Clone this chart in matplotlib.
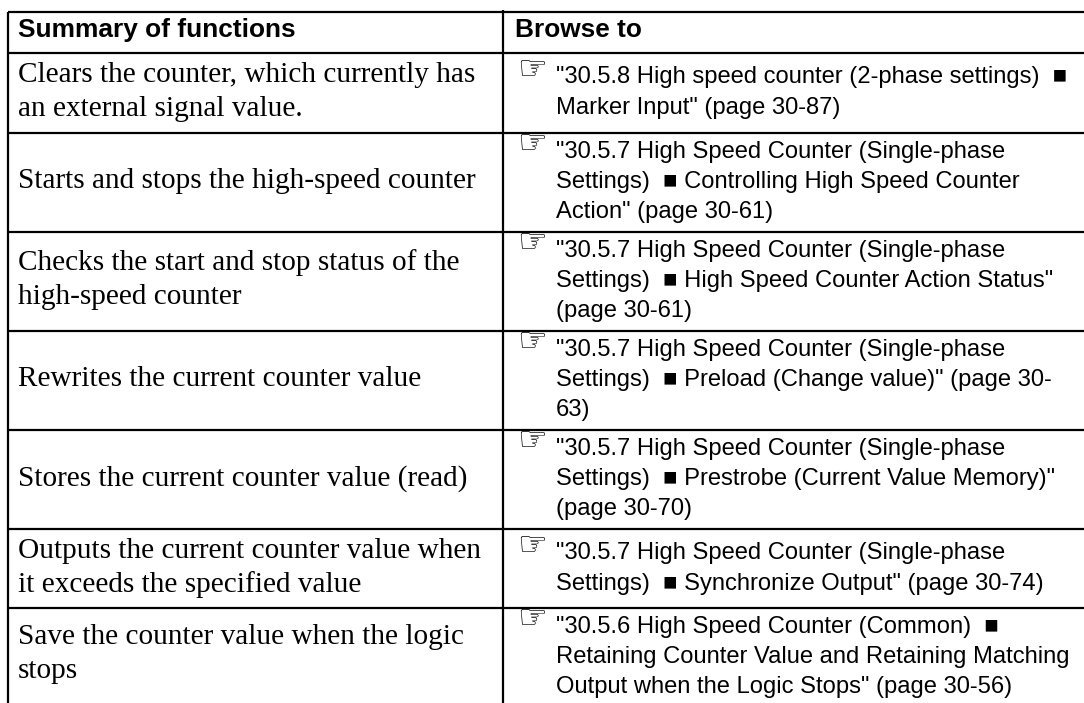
import matplotlib
matplotlib.use("Agg")
import matplotlib.pyplot as plt

# table contents
header_left = "Summary of functions"
header_right = "Browse to"
functions = [
    ["Clears the counter, which currently has", "an external signal value."],
    ["Starts and stops the high-speed counter"],
    ["Checks the start and stop status of the", "high-speed counter"],
    ["Rewrites the current counter value"],
    ["Stores the current counter value (read)"],
    ["Outputs the current counter value when", "it exceeds the specified value"],
    ["Save the counter value when the logic", "stops"],
]
links = [
    ["\"30.5.8 High speed counter (2-phase settings)  \u25a0", "Marker Input\" (page 30-87)"],
    ["\"30.5.7 High Speed Counter (Single-phase", "Settings)  \u25a0 Controlling High Speed Counter", "Action\" (page 30-61)"],
    ["\"30.5.7 High Speed Counter (Single-phase", "Settings)  \u25a0 High Speed Counter Action Status\"", "(page 30-61)"],
    ["\"30.5.7 High Speed Counter (Single-phase", "Settings)  \u25a0 Preload (Change value)\" (page 30-", "63)"],
    ["\"30.5.7 High Speed Counter (Single-phase", "Settings)  \u25a0 Prestrobe (Current Value Memory)\"", "(page 30-70)"],
    ["\"30.5.7 High Speed Counter (Single-phase", "Settings)  \u25a0 Synchronize Output\" (page 30-74)"],
    ["\"30.5.6 High Speed Counter (Common)  \u25a0", "Retaining Counter Value and Retaining Matching", "Output when the Logic Stops\" (page 30-56)"],
]
row_lines = [12, 53, 133, 232, 331, 430, 529, 608, 703]

fig = plt.figure(figsize=(10.84, 7.03), dpi=100)
ax = fig.add_axes([0, 0, 1, 1])
ax.set_xlim(0, 1084)
ax.set_ylim(703, 0)
ax.axis("off")

x_left = 8
x_mid = 503
for y in row_lines[:-1]:
    ax.plot([x_left, 1084], [y, y], color="black", lw=1.6, solid_capstyle="butt")
ax.plot([x_left, x_left], [12, 703], color="black", lw=1.6, solid_capstyle="butt")
ax.plot([x_mid, x_mid], [10, 703], color="black", lw=1.6, solid_capstyle="butt")

sans = "Liberation Sans"
serif = "Liberation Serif"
ax.text(18, 37, header_left, family=sans, weight="bold", fontsize=18.9, va="baseline")
ax.text(515, 37, header_right, family=sans, weight="bold", fontsize=18.9, va="baseline")

line_h = 34
for i in range(len(functions)):
    top = row_lines[i + 1]
    bottom = row_lines[i + 2]
    mid = (top + bottom) / 2.
    f_lines = functions[i]
    y0 = mid + 6 - (len(f_lines) - 1) * line_h / 2.
    for j, s in enumerate(f_lines):
        ax.text(18, y0 + j * line_h, s, family=serif, fontsize=21.1, va="baseline")
    l_lines = links[i]
    three = len(l_lines) == 3
    for j, s in enumerate(l_lines):
        y = top + (25 + j * 30 if three else 30 + j * 31)
        ax.text(556, y, s, family=sans, fontsize=17.1, va="baseline")
    # pointing hand
    ax.text(517, top + (11 if three else 17), "\u261e", family="DejaVu Sans", fontsize=24, va="center")

fig.savefig("out.png", dpi=100)
